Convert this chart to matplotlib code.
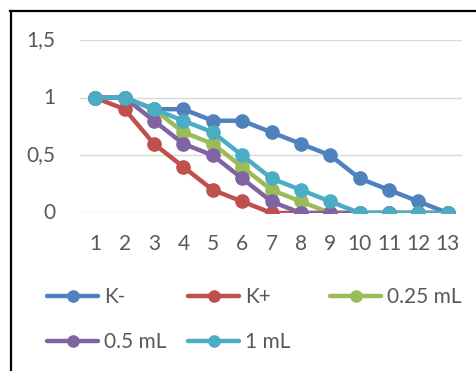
import matplotlib.pyplot as plt
from matplotlib.lines import Line2D

plt.rcParams['font.family'] = ['Lato', 'DejaVu Sans']

days = list(range(1, 14))
k_minus = [1, 1, 0.9, 0.9, 0.8, 0.8, 0.7, 0.6, 0.5, 0.3, 0.2, 0.1, 0]
k_plus = [1, 0.9, 0.6, 0.4, 0.2, 0.1, 0, 0, 0, 0, 0, 0, 0]
ml_025 = [1, 1, 0.9, 0.7, 0.6, 0.4, 0.2, 0.1, 0, 0, 0, 0, 0]
ml_05 = [1, 1, 0.8, 0.6, 0.5, 0.3, 0.1, 0, 0, 0, 0, 0, 0]
ml_1 = [1, 1, 0.9, 0.8, 0.7, 0.5, 0.3, 0.2, 0.1, 0, 0, 0, 0]

series = [
    ("K-", k_minus, "#4F81BD"),
    ("K+", k_plus, "#C0504D"),
    ("0.25 mL", ml_025, "#9BBB59"),
    ("0.5 mL", ml_05, "#8064A2"),
    ("1 mL", ml_1, "#4BACC6"),
]

fig = plt.figure(figsize=(4.77, 3.71), dpi=100)
ax = fig.add_axes([80.5 / 477, 1 - 213 / 371, 382 / 477, 173 / 371])

handles = []
for label, vals, color in series:
    h, = ax.plot(days, vals, color=color, linewidth=3.2, marker="o",
                 markersize=9.5, label=label, solid_capstyle="round")
    handles.append(h)

ax.set_xlim(0.5, 13.5)
ax.set_ylim(0, 1.5)
ax.set_xticks(days)
ax.set_yticks([0, 0.5, 1, 1.5])
ax.set_yticklabels(["0", "0,5", "1", "1,5"])
ax.grid(axis="y", color="#D9D9D9", linewidth=1)
ax.set_axisbelow(True)
for s in ax.spines.values():
    s.set_visible(False)
ax.tick_params(length=0, labelsize=15, labelcolor="#595959")
ax.tick_params(axis="y", pad=18)
ax.tick_params(axis="x", pad=15)
for t in ax.get_yticklabels():
    t.set_va("center")

# legend, one entry at a time like Excel's fixed columns
pos = [(47, 297), (188, 297), (330, 297), (47, 342), (188, 342)]
for h, (px, py) in zip(handles, pos):
    lg = fig.legend([h], [h.get_label()], loc="center left",
                    bbox_to_anchor=(px / 477, 1 - py / 371), frameon=False,
                    fontsize=15, handlelength=2.45, handletextpad=0.3,
                    borderpad=0, borderaxespad=0, markerscale=0.85)
    for t in lg.get_texts():
        t.set_color("#595959")

# frame lines of the original picture
fig.add_artist(Line2D([10 / 477, 1], [1 - 11 / 371] * 2, color="black", linewidth=1.6))
fig.add_artist(Line2D([11 / 477] * 2, [0, 1 - 11 / 371], color="black", linewidth=1.6))

fig.savefig("out.png", dpi=100)
